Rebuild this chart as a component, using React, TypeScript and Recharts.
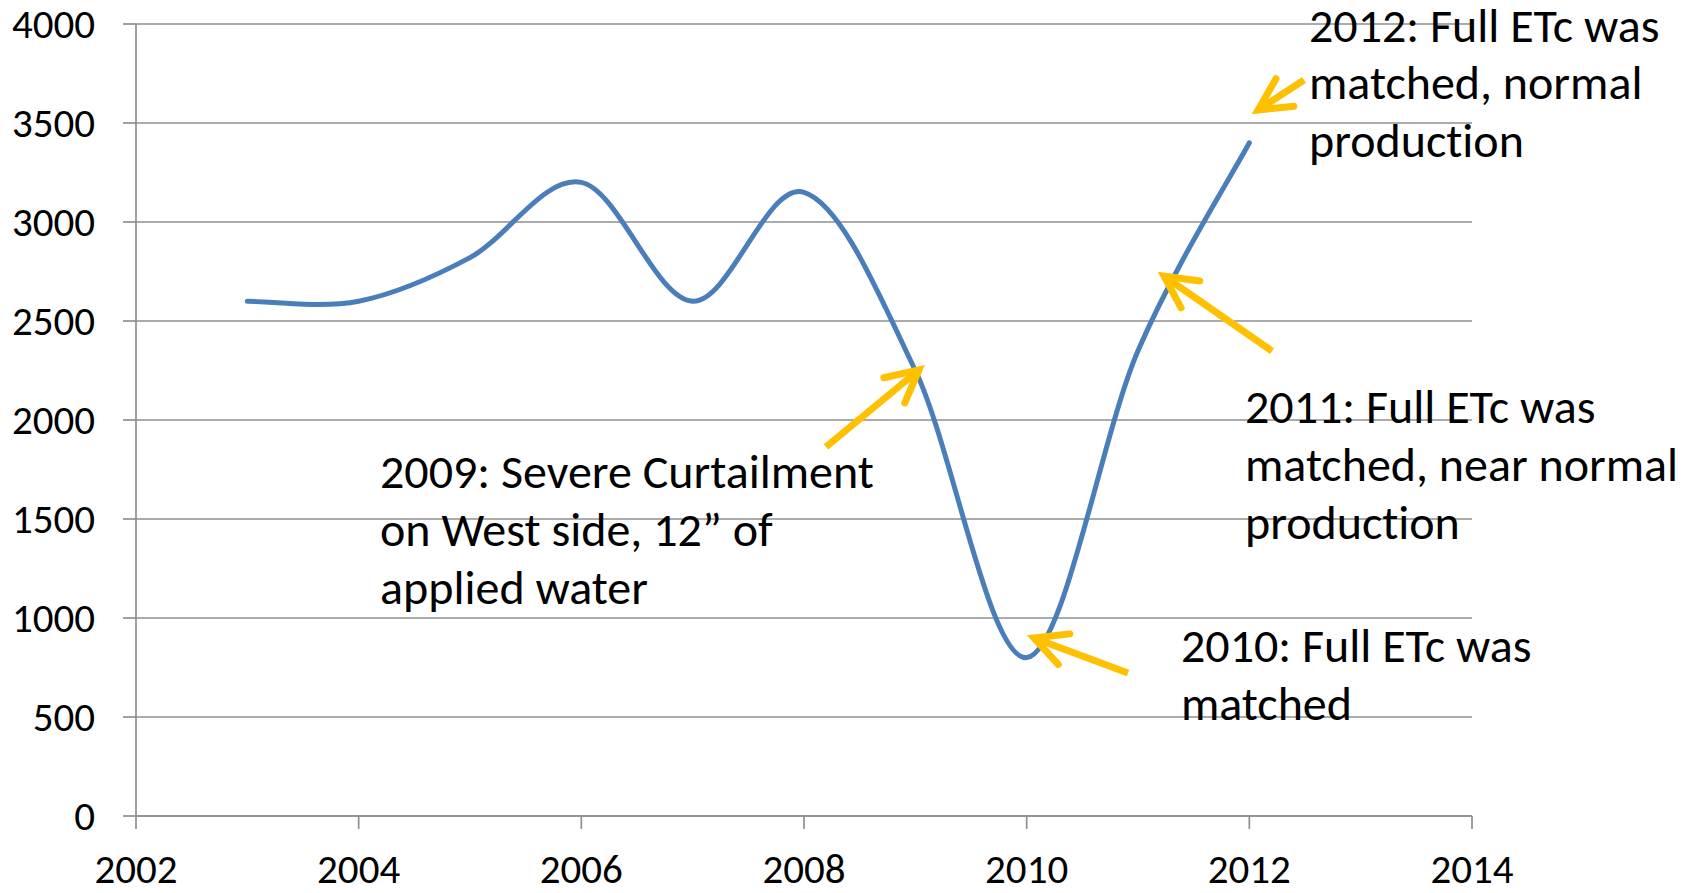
import React from 'react';
import { LineChart, Line, XAxis, YAxis, CartesianGrid, ReferenceLine, ReferenceDot } from 'recharts';

const years = [2003, 2004, 2005, 2006, 2007, 2008, 2009, 2010, 2011, 2012];
const yieldValues = [2600, 2600, 2820, 3200, 2600, 3150, 2250, 800, 2350, 3400];
const xTicks = [2002, 2004, 2006, 2008, 2010, 2012, 2014];
const yTicks = [0, 500, 1000, 1500, 2000, 2500, 3000, 3500, 4000];

const noteLines = [
  ['2012: Full ETc was', 'matched, normal', 'production'],
  ['2011: Full ETc was', 'matched, near normal', 'production'],
  ['2010: Full ETc was', 'matched'],
  ['2009: Severe Curtailment', 'on West side, 12\u201d of', 'applied water'],
];
const noteYears = [2012.536, 2011.961, 2011.386, 2004.192];
const noteValues = [3995, 2066, 859, 1738];

const arrowFromYears = [2012.491, 2012.204, 2010.91, 2008.198];
const arrowFromValues = [3717, 2348, 722, 1864];
const arrowToYears = [2012.078, 2011.234, 2010.066, 2009.033];
const arrowToValues = [3566, 2727, 899, 2253];

const data = years.map((y, i) => ({ year: y, value: yieldValues[i] }));

const FONT = 'Carlito, Lato, "Open Sans", sans-serif';
const GRID = '#8f8f8f';
const ARROW = '#FFC000';
const TEXT_STYLE = { fontVariantLigatures: 'none' as const, fontFeatureSettings: '"liga" 0' };

class ExcelSmooth {
  _context: any;
  _pts: number[][] = [];
  constructor(ctx: any) {
    this._context = ctx;
  }
  areaStart() {}
  areaEnd() {}
  lineStart() {
    this._pts = [];
  }
  point(x: number, y: number) {
    this._pts.push([+x, +y]);
  }
  lineEnd() {
    const p = this._pts;
    const c = this._context;
    if (!p.length) return;
    c.moveTo(p[0][0], p[0][1]);
    for (let i = 0; i < p.length - 1; i++) {
      const p0 = p[i - 1] || p[i];
      const p1 = p[i];
      const p2 = p[i + 1];
      const p3 = p[i + 2] || p[i + 1];
      c.bezierCurveTo(
        p1[0] + (p2[0] - p0[0]) / 6,
        p1[1] + (p2[1] - p0[1]) / 6,
        p2[0] - (p3[0] - p1[0]) / 6,
        p2[1] - (p3[1] - p1[1]) / 6,
        p2[0],
        p2[1]
      );
    }
  }
}
const excelCurve: any = (ctx: any) => new ExcelSmooth(ctx);

const ArrowShape = (props: any) => {
  const { x1, y1, x2, y2 } = props;
  const back = Math.atan2(y1 - y2, x1 - x2);
  const L = 36;
  const a = (27 * Math.PI) / 180;
  const bx1 = x2 + L * Math.cos(back + a);
  const by1 = y2 + L * Math.sin(back + a);
  const bx2 = x2 + L * Math.cos(back - a);
  const by2 = y2 + L * Math.sin(back - a);
  return (
    <g>
      <line x1={x1} y1={y1} x2={x2} y2={y2} stroke={ARROW} strokeWidth={7} strokeLinecap="butt" />
      <polyline
        points={`${bx1},${by1} ${x2},${y2} ${bx2},${by2}`}
        fill="none"
        stroke={ARROW}
        strokeWidth={7}
        strokeLinecap="round"
        strokeLinejoin="miter"
      />
    </g>
  );
};

const makeNote = (lines: string[]) => (props: any) => {
  const { cx, cy } = props;
  return (
    <g>
      {lines.map((l, i) => (
        <text
          key={i}
          x={cx}
          y={cy + i * 58}
          dominantBaseline="central"
          fontFamily={FONT}
          fontSize={48}
          fill="#000"
          style={TEXT_STYLE}
        >
          {l}
        </text>
      ))}
    </g>
  );
};

const YTick = (props: any) => {
  const { x, y, payload } = props;
  return (
    <text x={x} y={y} textAnchor="end" dominantBaseline="central" fontFamily={FONT} fontSize={41} fill="#000">
      {payload.value}
    </text>
  );
};

const XTick = (props: any) => {
  const { x, y, payload } = props;
  return (
    <text x={x} y={y + 38} textAnchor="middle" dominantBaseline="central" fontFamily={FONT} fontSize={41} fill="#000">
      {payload.value}
    </text>
  );
};

export default function App() {
  return (
    <div style={{ position: 'absolute', left: 0, top: 0, width: 1693, height: 893, background: '#fff' }}>
      <LineChart width={1693} height={893} data={data} margin={{ top: 24, right: 221, bottom: 0, left: 0 }}>
        <CartesianGrid vertical={false} stroke={GRID} strokeWidth={1.7} />
        <XAxis
          dataKey="year"
          type="number"
          domain={[2002, 2014]}
          ticks={xTicks}
          interval={0}
          height={77}
          tickSize={13}
          tickMargin={2}
          axisLine={{ stroke: GRID, strokeWidth: 1.7 }}
          tickLine={{ stroke: GRID, strokeWidth: 1.7 }}
          tick={<XTick />}
          allowDataOverflow
        />
        <YAxis
          type="number"
          domain={[0, 4000]}
          ticks={yTicks}
          interval={0}
          width={136}
          tickSize={13}
          tickMargin={28}
          axisLine={{ stroke: GRID, strokeWidth: 1.7 }}
          tickLine={{ stroke: GRID, strokeWidth: 1.7 }}
          tick={<YTick />}
        />
        <Line
          dataKey="value"
          type={excelCurve}
          stroke="#4A7EBB"
          strokeWidth={5}
          strokeLinecap="round"
          dot={false}
          activeDot={false}
          isAnimationActive={false}
        />
        {arrowFromYears.map((fx, i) => (
          <ReferenceLine
            key={'a' + i}
            segment={[
              { x: fx, y: arrowFromValues[i] },
              { x: arrowToYears[i], y: arrowToValues[i] },
            ]}
            ifOverflow="visible"
            shape={ArrowShape}
          />
        ))}
        {noteLines.map((lines, i) => (
          <ReferenceDot
            key={'n' + i}
            x={noteYears[i]}
            y={noteValues[i]}
            ifOverflow="visible"
            shape={makeNote(lines)}
          />
        ))}
      </LineChart>
    </div>
  );
}
